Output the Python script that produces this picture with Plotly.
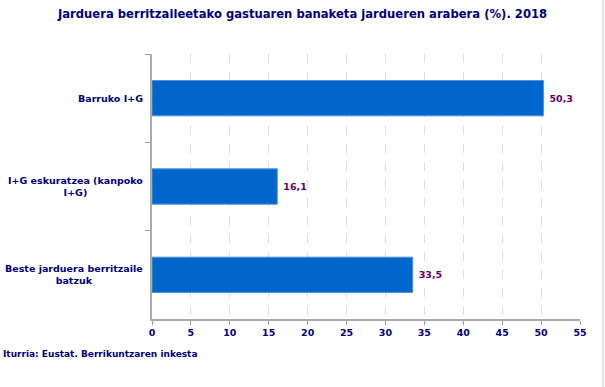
import plotly.graph_objects as go

categories = ["Barruko I+G", "I+G eskuratzea (kanpoko<br>I+G)", "Beste jarduera berritzaile<br>batzuk"]
values = [50.3, 16.1, 33.5]
x_ticks = [0, 5, 10, 15, 20, 25, 30, 35, 40, 45, 50, 55]

labels = ["\u00a0<b>" + f"{v:.1f}".replace(".", ",") + "</b>" for v in values]
font_family = "Verdana, DejaVu Sans, sans-serif"

fig = go.Figure(go.Bar(
    y=categories, x=values, orientation="h",
    marker=dict(color="#0066CC", line=dict(color="#4D94DB", width=1)),
    width=0.4,
    text=labels, textposition="outside", cliponaxis=False,
    textfont=dict(family=font_family, size=9.5, color="#660066"),
))

fig.update_layout(
    width=605, height=387,
    margin=dict(l=152, r=25, t=54, b=68, autoexpand=False),
    paper_bgcolor="white", plot_bgcolor="white",
    showlegend=False,
    title=dict(text="<b>Jarduera berritzaileetako gastuaren banaketa jardueren arabera (%). 2018</b>",
               x=0.5, xanchor="center", y=0.975, yanchor="top", automargin=False,
               font=dict(family=font_family, size=11.6, color="#000080")),
    font=dict(family=font_family, size=9.5, color="#000080"),
)

fig.update_xaxes(
    range=[0, 55], tickvals=x_ticks, ticktext=[f"<b>{t}</b>" for t in x_ticks],
    showgrid=True, gridcolor="#DDDDDD", griddash="dash", gridwidth=1,
    showline=True, linecolor="#AAAAAA", linewidth=2,
    ticks="outside", ticklen=4, tickcolor="#999999",
    tickfont=dict(family=font_family, size=9.5, color="#000080"),
    zeroline=False, automargin=False,
)
fig.update_yaxes(
    autorange="reversed", showline=True, linecolor="#AAAAAA", linewidth=2,
    ticks="outside", tickson="boundaries", ticklen=5, tickcolor="#999999",
    showticklabels=False,
    showgrid=False, automargin=False,
)

for c in categories:
    fig.add_annotation(text=f"<b>{c}</b>", xref="paper", yref="y", x=-7/428, y=c,
                       xanchor="right", yanchor="middle", align="center", showarrow=False,
                       font=dict(family=font_family, size=9.5, color="#000080"))

fig.add_annotation(text="<b>Iturria: Eustat. Berrikuntzaren inkesta</b>", xref="paper", yref="paper",
                   x=-151/428, y=-35/265, xanchor="left", yanchor="middle", showarrow=False,
                   font=dict(family=font_family, size=9, color="#000080"))
fig.add_shape(type="line", xref="paper", yref="paper", x0=(603-152)/428, x1=(603-152)/428,
              y0=-68/265, y1=1+54/265, line=dict(color="#CCCCCC", width=1))

fig.write_html("out.html", config={"displayModeBar": False},
               post_script="document.body.style.margin='0px';")
